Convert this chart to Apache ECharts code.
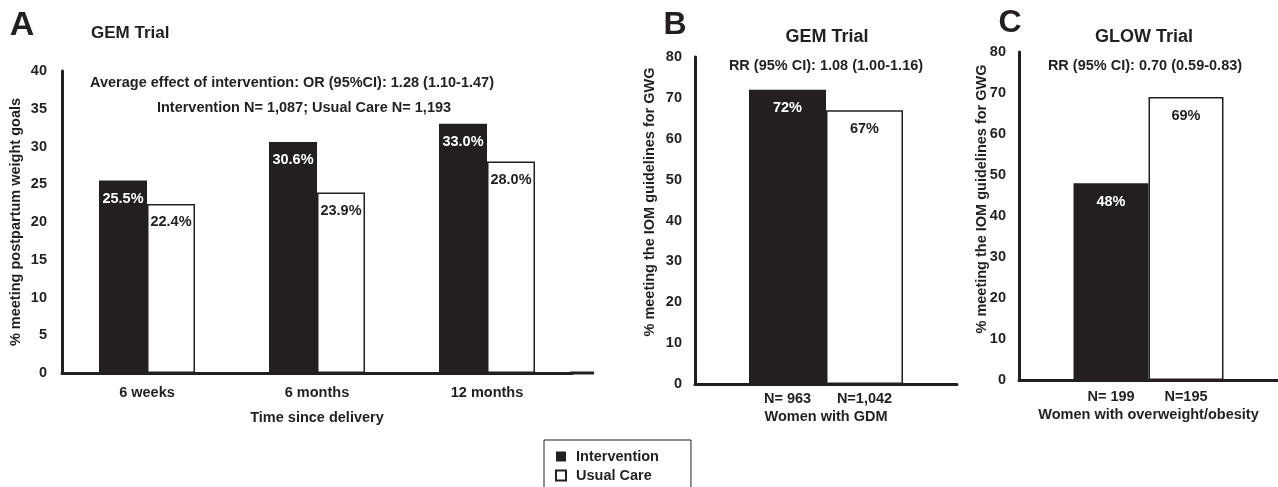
<!DOCTYPE html>
<html>
<head>
<meta charset="utf-8">
<script src="https://cdn.jsdelivr.net/npm/echarts@6/dist/echarts.min.js"></script>
<style>
html,body{margin:0;padding:0;background:#fff;}
#chart{width:1278px;height:487px;}
</style>
</head>
<body>
<div id="chart"></div>
<script>
// ---- data ----
const catsA = ['6 weeks', '6 months', '12 months'];
const interventionA = [25.5, 30.6, 33.0];
const usualCareA = [22.4, 23.9, 28.0];

const catB = ['Women with GDM'];
const nLabelsB = ['N= 963', 'N=1,042'];
const interventionB = [72];
const usualCareB = [67];

const catC = ['Women with overweight/obesity'];
const nLabelsC = ['N= 199', 'N=195'];
const interventionC = [48];
const usualCareC = [69];

const seriesNames = ['Intervention', 'Usual Care'];

// ---- style ----
const INK = '#231f20';
const FF = '"Liberation Sans", Arial, Helvetica, sans-serif';
const FS = 14.5;

function txt(text, x, y, size, align, rot) {
  return {
    type: 'text', x: x, y: y, rotation: rot || 0, silent: true,
    style: {
      text: text, fill: INK,
      font: 'bold ' + size + 'px ' + FF,
      align: align || 'center', verticalAlign: 'middle',
      textAlign: align || 'center', textVerticalAlign: 'middle'
    }
  };
}

function yAx(gi, max, interval, margin) {
  return {
    type: 'value', gridIndex: gi, min: 0, max: max, interval: interval,
    axisLine: { show: true, lineStyle: { color: INK, width: 3 } },
    axisTick: { show: false },
    splitLine: { show: false },
    axisLabel: { color: INK, fontSize: FS, fontWeight: 'bold', fontFamily: FF, margin: margin }
  };
}

function barLabel(color, fmt) {
  return {
    show: true, position: 'insideTop', distance: 11,
    color: color, fontSize: FS, fontWeight: 'bold', fontFamily: FF,
    formatter: fmt
  };
}
const fmtA = p => p.value.toFixed(1) + '%';
const fmtBC = p => p.value + '%';

const blackStyle = { color: INK };
const whiteStyle = { color: '#ffffff', borderColor: INK, borderWidth: 1.5 };

function nLabelAxis(gi, cats, nLabels, w, margin) {
  return {
    type: 'category', gridIndex: gi, data: cats,
    axisLine: { show: true, lineStyle: { color: INK, width: 3 } },
    axisTick: { show: false },
    axisLabel: {
      margin: margin, color: INK, fontFamily: FF, fontWeight: 'bold', fontSize: FS,
      formatter: v => '{a|' + nLabels[0] + '}{b|' + nLabels[1] + '}\n{c|' + v + '}',
      rich: {
        a: { width: w, align: 'center', lineHeight: 18, fontSize: FS, fontWeight: 'bold', fontFamily: FF, color: INK },
        b: { width: w, align: 'center', lineHeight: 18, fontSize: FS, fontWeight: 'bold', fontFamily: FF, color: INK },
        c: { width: 2 * w, align: 'center', lineHeight: 18, fontSize: FS, fontWeight: 'bold', fontFamily: FF, color: INK }
      }
    }
  };
}

const chart = echarts.init(document.getElementById('chart'), null, { renderer: 'canvas' });

const option = {
  backgroundColor: '#ffffff',
  animation: false,
  textStyle: { fontFamily: FF },
  grid: [
    { left: 62, top: 71, width: 510, height: 302 },
    { left: 695, top: 57, width: 262, height: 327 },
    { left: 1019, top: 52, width: 259, height: 328 }
  ],
  xAxis: [
    {
      type: 'category', gridIndex: 0, data: catsA,
      axisLine: { show: true, lineStyle: { color: INK, width: 3 } },
      axisTick: { show: false },
      axisLabel: { color: INK, fontSize: FS, fontWeight: 'bold', fontFamily: FF, margin: 12 },
      name: 'Time since delivery', nameLocation: 'middle', nameGap: 37,
      nameTextStyle: { color: INK, fontSize: FS, fontWeight: 'bold', fontFamily: FF }
    },
    nLabelAxis(1, catB, nLabelsB, 77, 6),
    nLabelAxis(2, catC, nLabelsC, 75, 8)
  ],
  yAxis: [
    yAx(0, 40, 5, 15),
    yAx(1, 80, 10, 13),
    yAx(2, 80, 10, 13)
  ],
  legend: {
    orient: 'vertical', left: 544, top: 440, width: 146, height: 90,
    data: seriesNames, icon: 'rect',
    itemWidth: 10, itemHeight: 10, itemGap: 4,
    padding: [9, 32, 30, 11],
    borderColor: INK, borderWidth: 1,
    textStyle: { color: INK, fontSize: FS, fontWeight: 'bold', fontFamily: FF, lineHeight: 14, padding: [0, 0, 0, 5] }
  },
  series: [
    { name: seriesNames[0], type: 'bar', xAxisIndex: 0, yAxisIndex: 0, data: interventionA,
      barWidth: 48, barGap: '0%', itemStyle: blackStyle, label: barLabel('#ffffff', fmtA) },
    { name: seriesNames[1], type: 'bar', xAxisIndex: 0, yAxisIndex: 0, data: usualCareA,
      barWidth: 48, barGap: '0%', itemStyle: whiteStyle, label: barLabel(INK, fmtA) },
    { name: seriesNames[0], type: 'bar', xAxisIndex: 1, yAxisIndex: 1, data: interventionB,
      barWidth: 77, barGap: '0%', itemStyle: blackStyle, label: barLabel('#ffffff', fmtBC) },
    { name: seriesNames[1], type: 'bar', xAxisIndex: 1, yAxisIndex: 1, data: usualCareB,
      barWidth: 77, barGap: '0%', itemStyle: whiteStyle, label: barLabel(INK, fmtBC) },
    { name: seriesNames[0], type: 'bar', xAxisIndex: 2, yAxisIndex: 2, data: interventionC,
      barWidth: 75, barGap: '0%', itemStyle: blackStyle, label: barLabel('#ffffff', fmtBC) },
    { name: seriesNames[1], type: 'bar', xAxisIndex: 2, yAxisIndex: 2, data: usualCareC,
      barWidth: 75, barGap: '0%', itemStyle: whiteStyle, label: barLabel(INK, fmtBC) }
  ],
  graphic: [
    // extension of panel A baseline
    { type: 'line', silent: true, shape: { x1: 570, y1: 373, x2: 594, y2: 373 },
      style: { stroke: INK, lineWidth: 3 } },
    txt('A', 22, 26, 34),
    txt('GEM Trial', 91, 33, 17, 'left'),
    txt('Average effect of intervention: OR (95%CI): 1.28 (1.10-1.47)', 292, 83, FS),
    txt('Intervention N= 1,087; Usual Care N= 1,193', 304, 108, FS),
    txt('% meeting postpartum weight goals', 16, 222, FS, 'center', Math.PI / 2),

    txt('B', 675, 25, 32),
    txt('GEM Trial', 827, 37, 18),
    txt('RR (95% CI): 1.08 (1.00-1.16)', 826, 66, FS),
    txt('% meeting the IOM guidelines for GWG', 650, 202, FS, 'center', Math.PI / 2),

    txt('C', 1010, 23, 32),
    txt('GLOW Trial', 1144, 37, 18),
    txt('RR (95% CI): 0.70 (0.59-0.83)', 1145, 66, FS),
    txt('% meeting the IOM guidelines for GWG', 982, 199, FS, 'center', Math.PI / 2)
  ]
};

chart.setOption(option);
</script>
</body>
</html>
